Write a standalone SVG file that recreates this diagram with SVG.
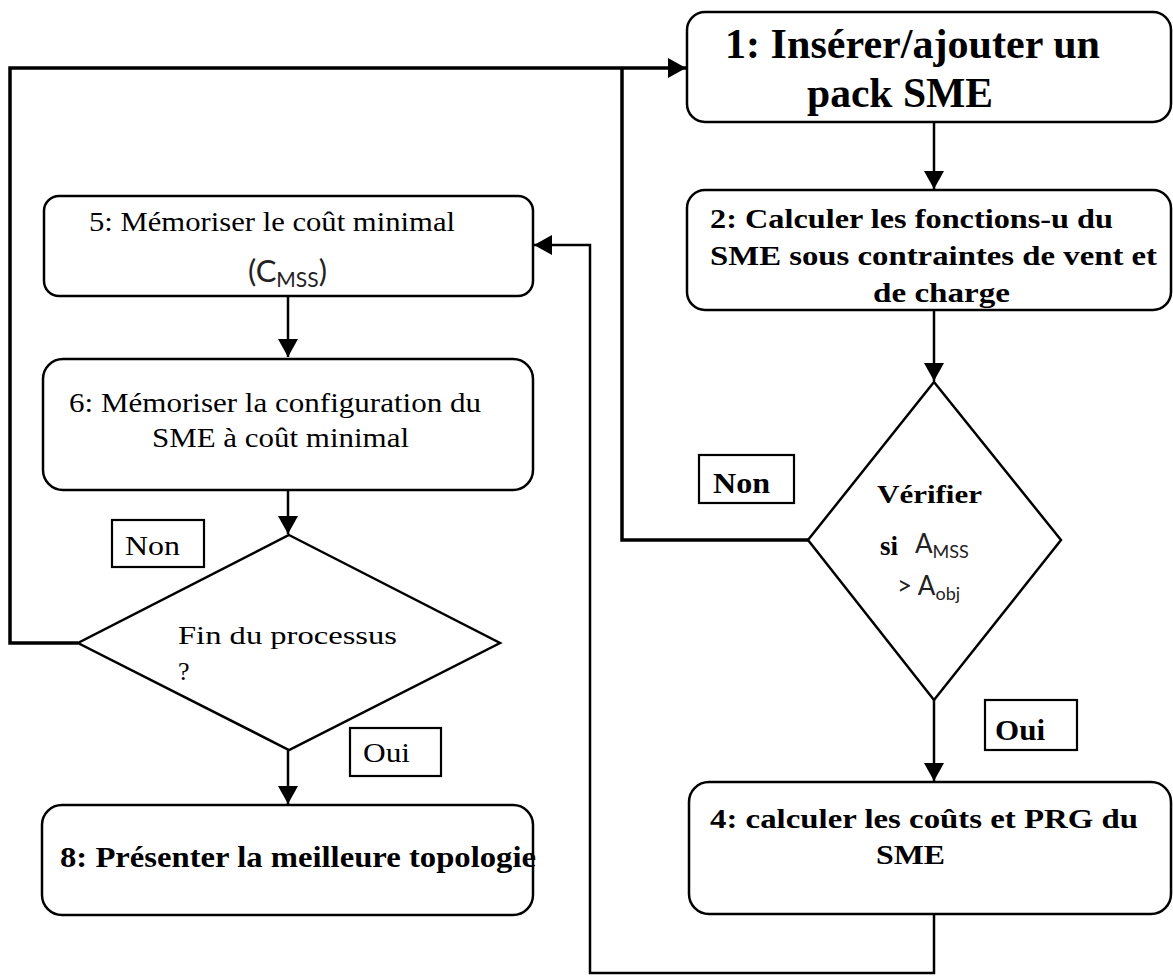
<svg xmlns="http://www.w3.org/2000/svg" width="1173" height="976" viewBox="0 0 1173 976">
<style>
.box{fill:#fff;stroke:#000;stroke-width:2.5}
.lbl{fill:#fff;stroke:#000;stroke-width:2.2}
.ln{fill:none;stroke:#000;stroke-width:2.5}
.thick{fill:none;stroke:#000;stroke-width:3.5}
.sb{font-family:"Liberation Serif","Times New Roman",serif;font-weight:bold;fill:#000}
.sr{font-family:"Liberation Serif","Times New Roman",serif;fill:#000}
.ss{font-family:Lato,"Liberation Sans",sans-serif;fill:#222}
</style>
<defs>
<marker id="ah" viewBox="0 0 18 20" refX="18" refY="10" markerWidth="18" markerHeight="20" markerUnits="userSpaceOnUse" orient="auto">
<path d="M0,0 L18,10 L0,20 Z" fill="#000"/>
</marker>
</defs>
<rect width="1173" height="976" fill="#fff"/>
<g id="connectors">
<polyline class="thick" points="78,643 10,643 10,68 686,68" marker-end="url(#ah)"/>
<polyline class="thick" points="808,540 622,540 622,68"/>
<line class="ln" x1="934" y1="122" x2="934" y2="189" marker-end="url(#ah)"/>
<line class="ln" x1="934" y1="310" x2="934" y2="381" marker-end="url(#ah)"/>
<line class="ln" x1="934" y1="700" x2="934" y2="781" marker-end="url(#ah)"/>
<polyline class="ln" points="934,914 934,973 590,973 590,245 534,245" marker-end="url(#ah)"/>
<line class="ln" x1="288" y1="296" x2="288" y2="357" marker-end="url(#ah)"/>
<line class="ln" x1="288" y1="490" x2="288" y2="534" marker-end="url(#ah)"/>
<line class="ln" x1="288" y1="750" x2="288" y2="804" marker-end="url(#ah)"/>
</g>
<g id="n1">
<rect class="box" x="687" y="12" width="484" height="110" rx="18"/>
<text class="sb" x="725" y="58" font-size="42" textLength="375" lengthAdjust="spacingAndGlyphs">1: Insérer/ajouter un</text>
<text class="sb" x="807" y="107" font-size="42" textLength="186" lengthAdjust="spacingAndGlyphs">pack SME</text>
</g>
<g id="n2">
<rect class="box" x="687" y="190" width="484" height="120" rx="18"/>
<text class="sb" x="710" y="228" font-size="27" textLength="403" lengthAdjust="spacingAndGlyphs">2: Calculer les fonctions-u du</text>
<text class="sb" x="710" y="265" font-size="27" textLength="447" lengthAdjust="spacingAndGlyphs">SME sous contraintes de vent et</text>
<text class="sb" x="873" y="302" font-size="27" textLength="137" lengthAdjust="spacingAndGlyphs">de charge</text>
</g>
<g id="n3">
<polygon class="box" points="934,382 1061,540 934,700 808,540"/>
<text class="sb" x="877" y="503" font-size="26" textLength="105" lengthAdjust="spacingAndGlyphs">Vérifier</text>
<text class="sb" x="880" y="555" font-size="27">si</text>
<text class="ss" x="915" y="553" font-size="26">A<tspan font-size="18" dy="5">MSS</tspan></text>
<text class="ss" x="897" y="595" font-size="26">&gt; A<tspan font-size="18" dy="5">obj</tspan></text>
</g>
<g id="lbl-non-right">
<rect class="lbl" x="699" y="455" width="95" height="48"/>
<text class="sb" x="713" y="493" font-size="30" textLength="57" lengthAdjust="spacingAndGlyphs">Non</text>
</g>
<g id="lbl-oui-right">
<rect class="lbl" x="985" y="700" width="92" height="50"/>
<text class="sb" x="995" y="740" font-size="30" textLength="50" lengthAdjust="spacingAndGlyphs">Oui</text>
</g>
<g id="n4">
<rect class="box" x="689" y="782" width="482" height="132" rx="20"/>
<text class="sb" x="710" y="828" font-size="27" textLength="428" lengthAdjust="spacingAndGlyphs">4: calculer les coûts et PRG du</text>
<text class="sb" x="876" y="864" font-size="27" textLength="69" lengthAdjust="spacingAndGlyphs">SME</text>
</g>
<g id="n5">
<rect class="box" x="44" y="196" width="489" height="100" rx="15"/>
<text class="sr" x="89" y="231" font-size="28" textLength="366" lengthAdjust="spacingAndGlyphs">5: Mémoriser le coût minimal</text>
<text class="ss" x="248" y="282" font-size="31">(C<tspan font-size="21" dy="5">MSS</tspan><tspan dy="-5">)</tspan></text>
</g>
<g id="n6">
<rect class="box" x="43" y="359" width="490" height="131" rx="20"/>
<text class="sr" x="69" y="412" font-size="27" textLength="412" lengthAdjust="spacingAndGlyphs">6: Mémoriser la configuration du</text>
<text class="sr" x="152" y="447" font-size="27" textLength="257" lengthAdjust="spacingAndGlyphs">SME à coût minimal</text>
</g>
<g id="n7">
<polygon class="box" points="289,535 500,643 289,750 78,643"/>
<text class="sr" x="178" y="644" font-size="26" textLength="219" lengthAdjust="spacingAndGlyphs">Fin du processus</text>
<text class="sr" x="178" y="680" font-size="26">?</text>
</g>
<g id="lbl-non-left">
<rect class="lbl" x="112" y="520" width="92" height="47"/>
<text class="sr" x="125" y="555" font-size="28" textLength="55" lengthAdjust="spacingAndGlyphs">Non</text>
</g>
<g id="lbl-oui-left">
<rect class="lbl" x="350" y="728" width="91" height="48"/>
<text class="sr" x="363" y="762" font-size="28" textLength="47" lengthAdjust="spacingAndGlyphs">Oui</text>
</g>
<g id="n8">
<rect class="box" x="42" y="805" width="491" height="110" rx="20"/>
<text class="sb" x="60" y="867" font-size="30" textLength="476" lengthAdjust="spacingAndGlyphs">8: Présenter la meilleure topologie</text>
</g>
</svg>
